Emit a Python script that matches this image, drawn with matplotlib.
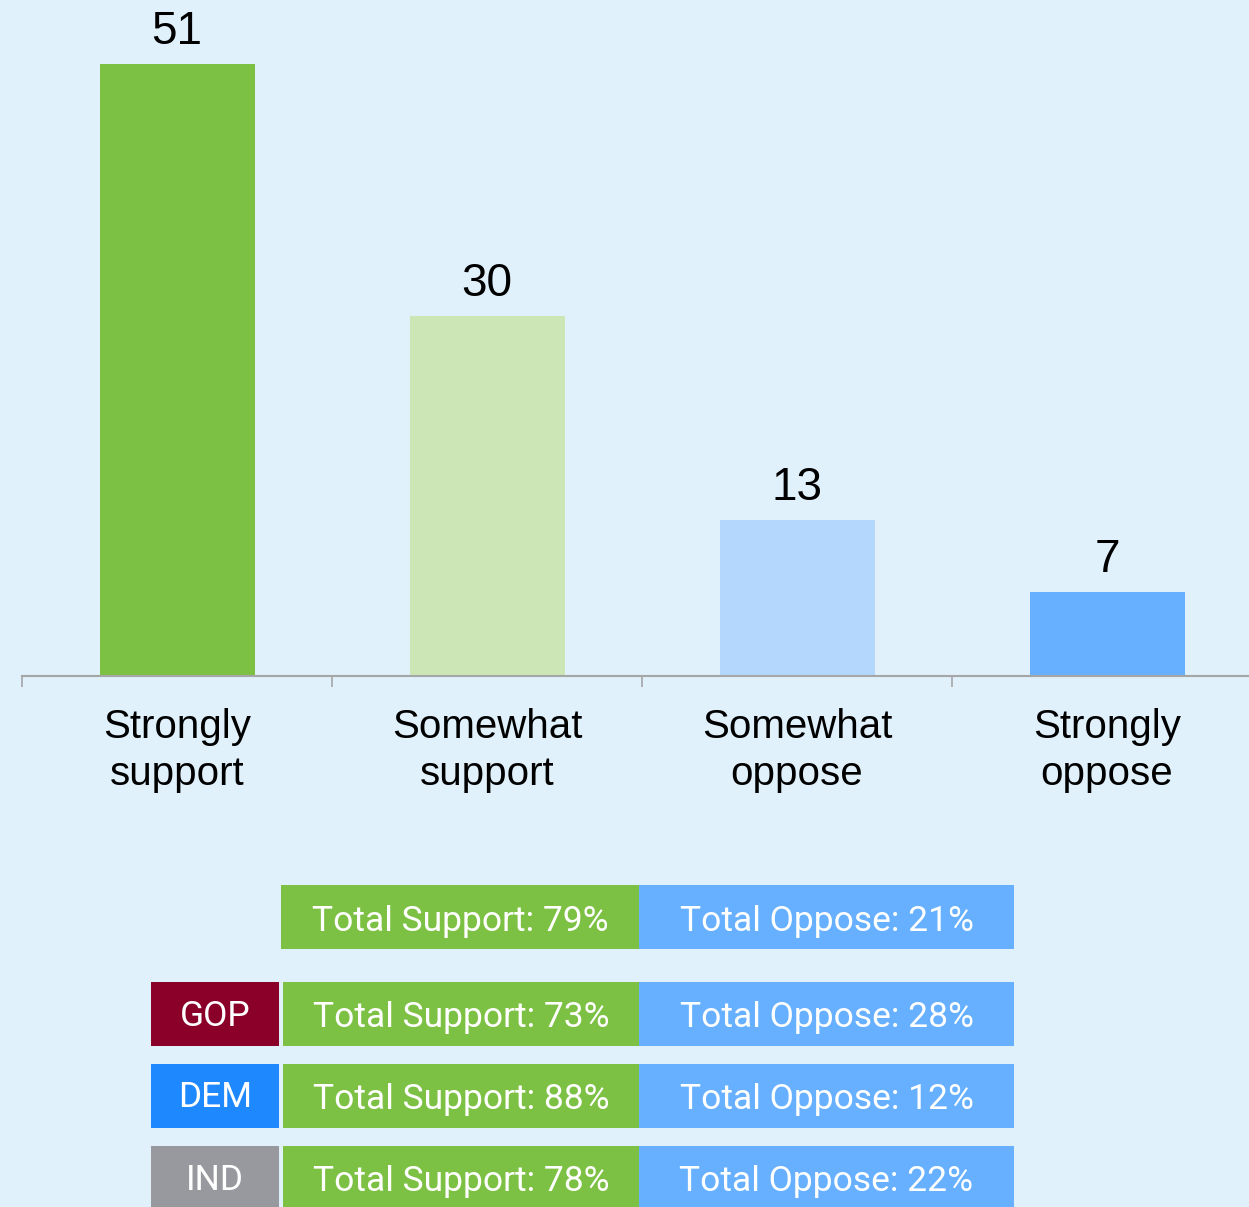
import matplotlib
matplotlib.use("Agg")
import matplotlib.pyplot as plt

# bar chart data
categories = ["Strongly\nsupport", "Somewhat\nsupport", "Somewhat\noppose", "Strongly\noppose"]
values = [51, 30, 13, 7]
bar_colors = ["#7DC144", "#CCE6B6", "#B3D7FD", "#66B0FF"]

# summary table data
groups = ["", "GOP", "DEM", "IND"]
group_colors = [None, "#8B0029", "#1E88FF", "#98999E"]
support = [79, 73, 88, 78]
oppose = [21, 28, 12, 22]

BG = "#E0F1FB"
W, H = 1249, 1207

fig = plt.figure(figsize=(W / 100, H / 100), dpi=100)
fig.patch.set_facecolor(BG)

# main bar axes (pixel-measured layout)
ax = fig.add_axes([22 / W, (H - 676) / H, 1240 / W, 676 / H])
ax.set_facecolor(BG)
ax.bar(range(len(values)), values, width=0.5, color=bar_colors, zorder=2)
ax.set_xlim(-0.5, 3.5)
ax.set_ylim(0, 676 / 12)
for i, v in enumerate(values):
    ax.text(i, v + 0.8, str(v), ha="center", va="bottom", fontsize=33,
            family="Liberation Sans", color="black")

for s in ["top", "right", "left"]:
    ax.spines[s].set_visible(False)
ax.spines["bottom"].set_color("#A6A6A6")
ax.spines["bottom"].set_linewidth(1.5)
ax.set_yticks([])
ax.set_xticks([-0.5, 0.5, 1.5, 2.5])
ax.set_xticklabels([])
ax.tick_params(axis="x", which="major", direction="out", length=8, width=1.2, color="#A6A6A6")
ax.set_xticks(range(len(categories)), minor=True)
ax.set_xticklabels(categories, minor=True, fontsize=29, family="Liberation Sans", linespacing=1.3)
ax.tick_params(axis="x", which="minor", length=0, pad=23)

# summary table axes in pixel coordinates
tx = fig.add_axes([0, 0, 1, 1])
tx.set_xlim(0, W)
tx.set_ylim(H, 0)
tx.axis("off")
tx.patch.set_alpha(0)

row_y = [917, 1014, 1095.5, 1178]
row_h = 64
for i, g in enumerate(groups):
    y = row_y[i]
    sup_left = 281 if i == 0 else 283
    tx.barh(y, 639 - sup_left, left=sup_left, height=row_h, color="#7DC144")
    tx.barh(y, 1014 - 639, left=639, height=row_h, color="#66B0FF")
    tx.text((sup_left + 639) / 2, y + 4, f"Total Support: {support[i]}%", ha="center", va="center",
            fontsize=25.5, family="Roboto", color="white")
    tx.text((639 + 1014) / 2, y + 4, f"Total Oppose: {oppose[i]}%", ha="center", va="center",
            fontsize=25.5, family="Roboto", color="white")
    if g:
        tx.barh(y, 279 - 151, left=151, height=row_h, color=group_colors[i])
        tx.text((151 + 279) / 2, y + 2, g, ha="center", va="center",
                fontsize=25.5, family="Roboto", color="white")

fig.savefig("out.png", dpi=100, facecolor=BG)
